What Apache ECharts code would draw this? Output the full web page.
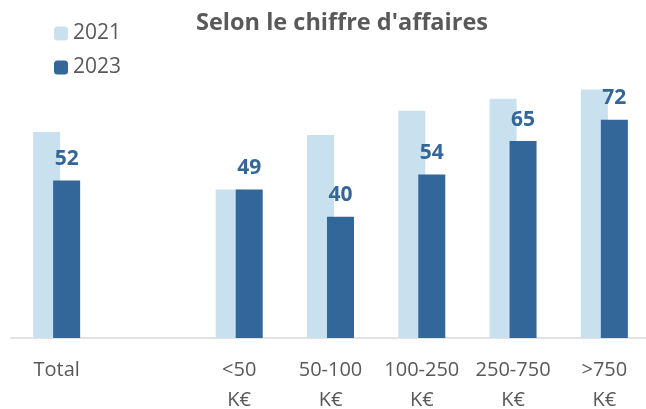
<!DOCTYPE html>
<html>
<head>
<meta charset="utf-8">
<script src="https://cdn.jsdelivr.net/npm/echarts@6/dist/echarts.min.js"></script>
<style>
  html, body { margin: 0; padding: 0; background: #fff; }
  #main { width: 646px; height: 409px; }
</style>
</head>
<body>
<div id="main"></div>
<script>
// categories (one empty slot between Total and the size classes)
var categories = ['Total', '', '<50\nK€', '50-100\nK€', '100-250\nK€', '250-750\nK€', '>750\nK€'];
var values2021 = [68, '-', 49, 67, 75, 79, 82];
var values2023 = [52, '-', 49, 40, 54, 65, 72];

var myChart = echarts.init(document.getElementById('main'));

var option = {
    animation: false,
    title: {
        text: "Selon le chiffre d'affaires",
        left: 337,
        textAlign: 'center',
        top: 6,
        textStyle: {
            fontFamily: 'Open Sans',
            fontWeight: 'bold',
            fontSize: 23.5,
            color: '#595959'
        }
    },
    legend: {
        orient: 'vertical',
        left: 54,
        top: 23,
        padding: 0,
        itemWidth: 14,
        itemHeight: 14,
        itemGap: 13,
        textStyle: {
            fontFamily: 'Open Sans',
            fontSize: 21,
            color: '#595959'
        },
        data: ['2021', '2023']
    },
    grid: {
        left: 11,
        right: -4,
        top: 35,
        bottom: 71,
        containLabel: false,
        outerBoundsMode: 'none'
    },
    xAxis: {
        type: 'category',
        data: categories,
        axisLine: { lineStyle: { color: '#d9d9d9', width: 1.5 } },
        axisTick: { show: false },
        axisLabel: {
            interval: 0,
            fontFamily: 'Open Sans',
            fontSize: 20,
            color: '#595959',
            lineHeight: 30,
            margin: 17
        }
    },
    yAxis: {
        type: 'value',
        min: 0,
        max: 100,
        show: false,
        splitLine: { show: false }
    },
    series: [{
        name: '2021',
        type: 'bar',
        data: values2021,
        barWidth: 27,
        barGap: '-26%',
        itemStyle: { color: '#c9e1ee' }
    }, {
        name: '2023',
        type: 'bar',
        data: values2023,
        barWidth: 27,
        itemStyle: { color: '#336699' },
        label: {
            show: true,
            position: 'top',
            distance: 11,
            fontFamily: 'Open Sans',
            fontWeight: 'bold',
            fontSize: 21,
            color: '#336699'
        }
    }]
};

myChart.setOption(option);
</script>
</body>
</html>
